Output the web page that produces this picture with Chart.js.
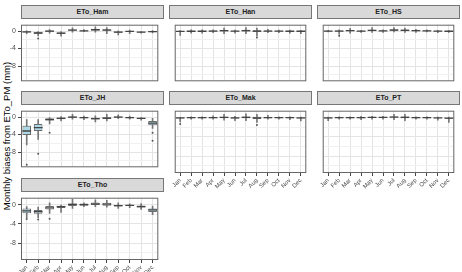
<!DOCTYPE html>
<html lang="en">
<head>
<meta charset="UTF-8" />
<title>Monthly biases from ETo_PM</title>
<script src="https://cdn.jsdelivr.net/npm/chart.js"></script>
<style>
    body {
        margin: 0;
        background: #fff;
        font-family: "Liberation Sans", Arial, sans-serif;
    }

    #wrap {
        position: relative;
        width: 462px;
        height: 272px;
        overflow: hidden;
    }

    #wrap canvas {
        position: absolute;
    }

    .strip {
        position: absolute;
        box-sizing: border-box;
        background: #d9d9d9;
        border: 1px solid #777;
        color: #222;
        font-size: 7px;
        font-weight: bold;
        text-align: center;
    }

    #ytitle {
        position: absolute;
        left: -93px;
        top: 130px;
        width: 200px;
        height: 12px;
        line-height: 12px;
        font-size: 9.5px;
        color: #000;
        text-align: center;
        white-space: nowrap;
        transform: rotate(-90deg);
    }
</style>
</head>
<body>
<div id="wrap">
    <div id="ytitle">Monthly biases from ETo_PM (mm)</div>
</div>

<script>
    const months = ['Jan', 'Feb', 'Mar', 'Apr', 'May', 'Jun', 'Jul', 'Aug', 'Sep', 'Oct', 'Nov', 'Dec'];
    const yTicks = [-10, -8, -6, -4, -2, 0];

    // per month: [lower whisker, Q1, median, Q3, upper whisker]
    const hamStats = [
        [-0.6, -0.35, -0.2, -0.1, 0.05], [-1.1, -0.6, -0.45, -0.3, -0.1], [-0.5, -0.15, 0, 0.1, 0.35],
        [-1.2, -0.65, -0.5, -0.35, -0.1], [-0.25, 0.1, 0.2, 0.35, 0.75], [-0.15, -0.05, 0.05, 0.15, 0.35],
        [-0.25, 0.15, 0.3, 0.45, 0.95], [-0.6, 0, 0.2, 0.4, 0.8], [-0.9, -0.4, -0.25, -0.1, 0.05],
        [-0.6, -0.2, -0.1, 0, 0.2], [-0.5, -0.35, -0.25, -0.15, 0], [-0.45, -0.25, -0.15, -0.05, 0.1]
    ];
    const hamOutliers = [['Feb', -1.7]];

    const hanStats = [
        [-1.0, -0.2, -0.1, 0, 0.1], [-0.5, -0.15, -0.05, 0.05, 0.3], [-0.5, -0.15, -0.05, 0.05, 0.3],
        [-0.4, -0.1, 0, 0.1, 0.3], [-0.6, -0.1, 0.1, 0.25, 0.7], [-0.5, -0.1, 0, 0.05, 0.2],
        [-0.6, -0.1, 0.1, 0.3, 0.8], [-1.1, -0.2, 0, 0.2, 0.7], [-0.4, -0.1, 0, 0.1, 0.4],
        [-0.4, -0.1, 0, 0.05, 0.2], [-0.5, -0.1, -0.05, 0.05, 0.2], [-0.6, -0.15, -0.05, 0, 0.15]
    ];
    const hanOutliers = [['Aug', -1.5]];

    const hsStats = [
        [-0.2, -0.1, 0, 0.05, 0.15], [-0.7, -0.1, 0, 0.1, 0.3], [-0.5, -0.05, 0.1, 0.2, 0.6],
        [-0.3, -0.1, 0, 0.05, 0.15], [-0.3, 0, 0.15, 0.3, 0.8], [-0.3, -0.05, 0.05, 0.1, 0.3],
        [-0.2, 0.05, 0.2, 0.4, 0.8], [-0.3, 0, 0.15, 0.35, 0.7], [-0.3, -0.05, 0.1, 0.2, 0.4],
        [-0.2, -0.05, 0.05, 0.1, 0.25], [-0.4, -0.1, 0, 0.05, 0.15], [-0.3, -0.15, -0.05, 0, 0.1]
    ];
    const hsOutliers = [['Feb', -1.1]];

    const jhStats = [
        [-6.4, -4.1, -3.2, -2.0, -0.6], [-5.1, -3.2, -2.4, -1.6, -0.6], [-1.6, -0.8, -0.6, -0.3, 0],
        [-0.9, -0.5, -0.3, -0.1, 0.1], [-0.5, -0.15, 0, 0.1, 0.6], [-0.6, -0.3, -0.15, 0, 0.2],
        [-1.1, -0.55, -0.35, -0.15, 0.3], [-0.9, -0.45, -0.25, -0.05, 0.6], [-0.4, -0.1, 0, 0.1, 0.5],
        [-0.5, -0.25, -0.15, 0, 0.2], [-0.7, -0.4, -0.3, -0.15, 0], [-2.6, -1.9, -1.4, -0.9, -0.3]
    ];
    const jhOutliers = [['Jan', -10.9], ['Feb', -8.4], ['Mar', -3.6], ['Dec', -3.6], ['Dec', -5.4]];

    const makStats = [
        [-0.9, -0.2, -0.05, 0, 0.05], [-0.3, -0.1, 0, 0.05, 0.15], [-0.3, -0.1, 0, 0.05, 0.2],
        [-0.3, -0.1, 0, 0.1, 0.4], [-0.5, -0.1, 0.05, 0.2, 0.7], [-0.6, -0.15, -0.05, 0.05, 0.3],
        [-0.6, -0.1, 0.05, 0.25, 0.8], [-1.0, -0.3, -0.05, 0.2, 0.7], [-0.3, -0.1, 0, 0.1, 0.5],
        [-0.3, -0.1, 0, 0.05, 0.2], [-0.4, -0.1, 0, 0.05, 0.15], [-0.7, -0.2, -0.05, 0, 0.1]
    ];
    const makOutliers = [['Jan', -1.3], ['Aug', -1.5]];

    const ptStats = [
        [-0.6, -0.2, -0.05, 0, 0.1], [-0.3, -0.1, 0, 0.05, 0.15], [-0.3, -0.1, 0, 0.05, 0.2],
        [-0.4, -0.1, 0, 0.1, 0.3], [-0.3, -0.05, 0.05, 0.15, 0.3], [-0.3, -0.05, 0.05, 0.1, 0.3],
        [-0.4, 0, 0.1, 0.25, 0.7], [-0.6, -0.1, 0.05, 0.25, 0.7], [-0.3, -0.1, 0, 0.05, 0.2],
        [-0.3, -0.1, 0, 0.05, 0.15], [-0.5, -0.15, -0.05, 0, 0.1], [-1.0, -0.3, -0.1, 0, 0.1]
    ];
    const ptOutliers = [];

    const thoStats = [
        [-2.7, -1.8, -1.3, -0.8, -0.4], [-2.7, -1.9, -1.45, -1.1, -0.5], [-1.8, -1.0, -0.65, -0.3, 0.4],
        [-1.6, -0.7, -0.4, -0.2, 0], [-0.8, -0.25, 0.05, 0.25, 1.1], [-0.4, -0.2, 0, 0.25, 0.4],
        [-0.4, -0.05, 0.15, 0.45, 1.0], [-0.5, -0.2, 0.1, 0.4, 0.9], [-0.8, -0.4, -0.2, 0, 0.4],
        [-0.6, -0.25, -0.15, 0, 0.2], [-1.0, -0.6, -0.4, -0.15, 0.25], [-2.1, -1.5, -1.1, -0.8, -0.3]
    ];
    const thoOutliers = [['Jan', -3.0], ['Feb', -3.1], ['Mar', -2.9]];

    // boxes drawn with a light blue fill
    const shaded = { ETo_JH: ['Jan', 'Feb', 'Dec'], ETo_Tho: ['Jan', 'Feb', 'Dec'] };

    // layout of the facet grid
    const colLeft = [21, 169, 317];
    const rowTop = [19, 105, 192];
    const panelW = 143;
    const panelH = 68;
    const stripH = 14;

    const panels = [
        { name: 'ETo_Ham', stats: hamStats, outliers: hamOutliers, col: 0, row: 0, xLabels: false },
        { name: 'ETo_Han', stats: hanStats, outliers: hanOutliers, col: 1, row: 0, xLabels: false },
        { name: 'ETo_HS', stats: hsStats, outliers: hsOutliers, col: 2, row: 0, xLabels: false },
        { name: 'ETo_JH', stats: jhStats, outliers: jhOutliers, col: 0, row: 1, xLabels: false },
        { name: 'ETo_Mak', stats: makStats, outliers: makOutliers, col: 1, row: 1, xLabels: true },
        { name: 'ETo_PT', stats: ptStats, outliers: ptOutliers, col: 2, row: 1, xLabels: true },
        { name: 'ETo_Tho', stats: thoStats, outliers: thoOutliers, col: 0, row: 2, xLabels: true }
    ];

    const panelFrame = {
        id: 'panelFrame',
        afterDraw(chart) {
            const a = chart.chartArea;
            const ctx = chart.ctx;
            ctx.save();
            ctx.strokeStyle = '#666';
            ctx.lineWidth = 1;
            ctx.strokeRect(a.left + 0.5, a.top + 0.5, a.right - a.left - 1, a.bottom - a.top - 1);
            ctx.restore();
        }
    };

    const wrap = document.getElementById('wrap');

    function makePanel(p) {
        const showY = p.col === 0;
        const yW = showY ? 21 : 0;
        const xH = p.xLabels ? 16 : 0;

        const strip = document.createElement('div');
        strip.className = 'strip';
        strip.textContent = p.name;
        strip.style.left = colLeft[p.col] + 'px';
        strip.style.top = (rowTop[p.row] - stripH) + 'px';
        strip.style.width = panelW + 'px';
        strip.style.height = stripH + 'px';
        strip.style.lineHeight = (stripH - 2) + 'px';
        wrap.appendChild(strip);

        const canvas = document.createElement('canvas');
        canvas.width = yW + panelW;
        canvas.height = panelH + xH;
        canvas.style.left = (colLeft[p.col] - yW) + 'px';
        canvas.style.top = rowTop[p.row] + 'px';
        canvas.style.width = canvas.width + 'px';
        canvas.style.height = canvas.height + 'px';
        wrap.appendChild(canvas);

        const fills = months.map(m => (shaded[p.name] || []).includes(m) ? '#add8e6' : '#ffffff');

        new Chart(canvas, {
            type: 'bar',
            data: {
                labels: months,
                datasets: [
                    {
                        type: 'line',
                        data: p.outliers.map(o => ({ x: o[0], y: o[1] })),
                        showLine: false,
                        pointRadius: 1,
                        pointBackgroundColor: '#555',
                        pointBorderWidth: 0,
                        order: 0
                    },
                    {
                        type: 'line',
                        data: p.stats.map(s => s[2]),
                        showLine: false,
                        pointStyle: 'line',
                        pointRadius: 4.4,
                        pointBorderWidth: 1.3,
                        pointBorderColor: '#444',
                        order: 1
                    },
                    {
                        data: p.stats.map(s => [s[1], s[3]]),
                        backgroundColor: fills,
                        borderColor: '#6a6a6a',
                        borderWidth: 1,
                        borderSkipped: false,
                        barPercentage: 0.75,
                        categoryPercentage: 1,
                        grouped: false,
                        order: 2
                    },
                    {
                        data: p.stats.map(s => [s[0], s[4]]),
                        backgroundColor: '#777',
                        barThickness: 1,
                        grouped: false,
                        order: 3
                    }
                ]
            },
            options: {
                responsive: false,
                animation: false,
                events: [],
                layout: { padding: 0 },
                plugins: { legend: { display: false }, tooltip: { enabled: false } },
                scales: {
                    x: {
                        offset: true,
                        border: { display: false },
                        grid: {
                            offset: false,
                            color: '#e4e4e4',
                            drawTicks: p.xLabels,
                            tickLength: 3,
                            tickColor: '#444'
                        },
                        ticks: {
                            display: p.xLabels,
                            autoSkip: false,
                            minRotation: 45,
                            maxRotation: 45,
                            padding: 1,
                            color: '#4d4d4d',
                            font: { family: 'Liberation Sans', size: 6 }
                        },
                        afterFit(s) {
                            s.height = xH;
                            s.paddingLeft = 0; s.paddingRight = 0; s.paddingTop = 0; s.paddingBottom = 0;
                        }
                    },
                    y: {
                        min: -11.5,
                        max: 1.45,
                        border: { display: false },
                        afterBuildTicks(s) {
                            s.ticks = yTicks.map(v => ({ value: v }));
                        },
                        grid: {
                            color: c => c.tick && c.tick.value % 4 === 0 ? '#e4e4e4' : '#f1f1f1',
                            drawTicks: showY,
                            tickLength: 3,
                            tickColor: c => c.tick && c.tick.value % 4 === 0 ? '#444' : 'rgba(0,0,0,0)'
                        },
                        ticks: {
                            display: showY,
                            autoSkip: false,
                            padding: 2,
                            color: '#4d4d4d',
                            font: { family: 'Liberation Sans', size: 7 },
                            callback: v => v % 4 === 0 ? String(v) : ''
                        },
                        afterFit(s) {
                            s.width = yW;
                            s.paddingLeft = 0; s.paddingRight = 0; s.paddingTop = 0; s.paddingBottom = 0;
                        }
                    }
                }
            },
            plugins: [panelFrame]
        });
    }

    panels.forEach(makePanel);
</script>
</body>
</html>
